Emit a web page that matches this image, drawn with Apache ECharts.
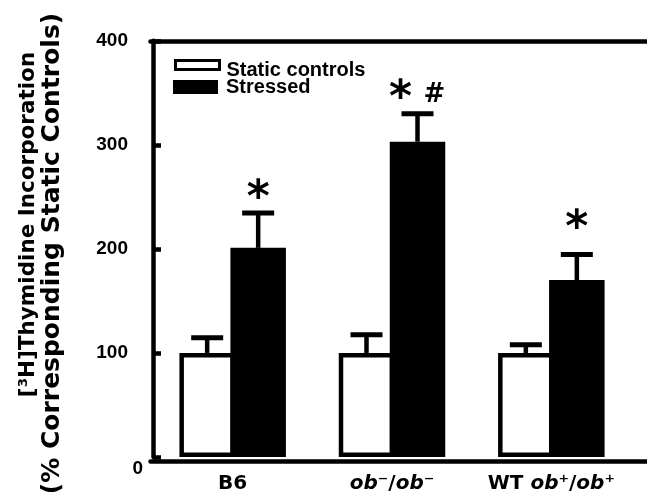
<!DOCTYPE html>
<html>
<head>
<meta charset="utf-8">
<script src="https://cdn.jsdelivr.net/npm/echarts@6/dist/echarts.min.js"></script>
<style>html,body{margin:0;padding:0;background:#fff;}#c{width:647px;height:494px;}</style>
</head>
<body>
<div id="c"></div>
<script>
// ---- data ----
const categories = ['B6', 'ob⁻/ob⁻', 'WT ob⁺/ob⁺'];
const seriesNames = ['Static controls', 'Stressed'];
const staticValues = [100, 100, 100];
const staticErrors = [14.5, 17.5, 8];
const stressedValues = [201, 303, 170];
const stressedErrors = [33.5, 27, 24.5];
const markTexts = ['*', '*#', '*'];
const markValues = [256, 352, 227];
const yTicks = [0, 100, 200, 300, 400];

// ---- style constants ----
const BAR_W = 55.5, BORDER = 4.5, GAP_PX = -4.5;
const HALF = (BAR_W + GAP_PX) / 2;
const GRID = { left: 153, right: 16, top: 40.8, bottom: 32.7 };
const BOLD = 'bold';
const SANS = '"Liberation Sans", Arial, sans-serif';

const chart = echarts.init(document.getElementById('c'), null, { renderer: 'canvas' });

const errData = [];
staticValues.forEach((v, i) => errData.push([i, v, staticErrors[i], -1]));
stressedValues.forEach((v, i) => errData.push([i, v, stressedErrors[i], 1]));
const markData = markValues.map((v, i) => [i, v]);

const option = {
  backgroundColor: '#fff',
  animation: false,
  grid: [
    { left: GRID.left, right: GRID.right, top: GRID.top, bottom: GRID.bottom },
    { left: 150.5, right: -20, top: GRID.top, bottom: GRID.bottom }
  ],
  legend: [
    {
      left: 174, top: 59, padding: 0, orient: 'vertical', selectedMode: false,
      icon: 'rect', itemWidth: 44, itemHeight: 9,
      data: [{ name: seriesNames[0], itemStyle: { color: '#fff', borderColor: '#000', borderWidth: 3 } }],
      formatter: n => '{a|' + n + '}',
      textStyle: { rich: { a: { fontFamily: SANS, fontWeight: BOLD, fontSize: 20, color: '#000', padding: [10, 0, 0, 2] } } }
    },
    {
      left: 173, top: 77, padding: 0, orient: 'vertical', selectedMode: false,
      icon: 'rect', itemWidth: 45, itemHeight: 14,
      data: [{ name: seriesNames[1], itemStyle: { color: '#000', borderWidth: 0 } }],
      formatter: n => '{a|' + n + '}',
      textStyle: { rich: { a: { fontFamily: SANS, fontWeight: BOLD, fontSize: 20, color: '#000', padding: [0, 0, 0, 3] } } }
    }
  ],
  xAxis: [
    {
      type: 'category', gridIndex: 0, data: categories,
      axisLine: { show: false }, axisTick: { show: false },
      axisLabel: {
        interval: 0, hideOverlap: false,
        margin: 17, color: '#000', fontFamily: 'DejaVu Sans', fontWeight: BOLD, fontSize: 20,
        formatter: s => s.replace(/ob/g, '{i|ob}'),
        rich: { i: { fontFamily: 'DejaVu Sans', fontWeight: BOLD, fontStyle: 'italic', fontSize: 20, color: '#000' } }
      }
    },
    {
      type: 'category', gridIndex: 1, data: [''], position: 'bottom',
      axisLine: { show: true, lineStyle: { color: '#000', width: 4.5 } },
      axisTick: { show: false }, axisLabel: { show: false }
    },
    {
      type: 'category', gridIndex: 1, data: [''], position: 'top',
      axisLine: { show: true, lineStyle: { color: '#000', width: 4.5 } },
      axisTick: { show: false }, axisLabel: { show: false }
    }
  ],
  yAxis: [
    {
      type: 'value', gridIndex: 0, min: yTicks[0], max: yTicks[yTicks.length - 1], interval: 100,
      splitLine: { show: false },
      axisLine: { show: true, lineStyle: { color: '#000', width: 4.5 } },
      axisTick: { show: true, inside: true, length: 8, lineStyle: { color: '#000', width: 4.5 } },
      axisLabel: {
        margin: 10, color: '#000', fontFamily: SANS, fontWeight: BOLD, fontSize: 19,
        formatter: v => v === 0 ? '{z|0}' : '{n|' + v + '}',
        rich: {
          z: { fontFamily: SANS, fontWeight: BOLD, fontSize: 19, color: '#000', padding: [23, 0, 0, 0] },
          n: { fontFamily: SANS, fontWeight: BOLD, fontSize: 19, color: '#000', padding: [0, 15, 0, 0] }
        }
      }
    },
    { type: 'value', gridIndex: 1, show: false }
  ],
  graphic: [
    {
      type: 'text', x: 28, y: 224.5, rotation: Math.PI / 2,
      style: { text: '[³H]Thymidine Incorporation', font: 'bold 21.5px "DejaVu Sans"', fill: '#000', align: 'center', verticalAlign: 'middle' }
    },
    {
      type: 'text', x: 52, y: 253.5, rotation: Math.PI / 2,
      style: { text: '(% Corresponding Static Controls)', font: 'bold 25px "DejaVu Sans"', fill: '#000', align: 'center', verticalAlign: 'middle' }
    }
  ],
  series: [
    {
      name: seriesNames[0], type: 'bar', xAxisIndex: 0, yAxisIndex: 0,
      data: staticValues, barWidth: BAR_W, barGap: (GAP_PX / BAR_W * 100) + '%',
      itemStyle: { color: '#fff', borderColor: '#000', borderWidth: BORDER }, z: 2
    },
    {
      name: seriesNames[1], type: 'bar', xAxisIndex: 0, yAxisIndex: 0,
      data: stressedValues, barWidth: BAR_W, barGap: (GAP_PX / BAR_W * 100) + '%',
      itemStyle: { color: '#000', borderColor: '#000', borderWidth: BORDER }, z: 2
    },
    {
      type: 'custom', xAxisIndex: 0, yAxisIndex: 0, z: 3, silent: true,
      data: errData,
      encode: { x: 0, y: 1 },
      renderItem: (params, api) => {
        const x = api.value(0), v = api.value(1), e = api.value(2), side = api.value(3);
        const b = api.coord([x, v]);
        const t = api.coord([x, v + e]);
        const cx = b[0] + side * HALF;
        return {
          type: 'group', children: [
            { type: 'line', shape: { x1: cx, y1: b[1], x2: cx, y2: t[1] }, style: { stroke: '#000', lineWidth: 4.5 } },
            { type: 'line', shape: { x1: cx - 16, y1: t[1], x2: cx + 16, y2: t[1] }, style: { stroke: '#000', lineWidth: 5 } }
          ]
        };
      }
    },
    {
      type: 'custom', xAxisIndex: 0, yAxisIndex: 0, z: 4, silent: true,
      data: markData,
      encode: { x: 0, y: 1 },
      renderItem: (params, api) => {
        const p = api.coord([api.value(0), api.value(1)]);
        const cx = p[0] + HALF;
        const chars = markTexts[params.dataIndex].split('');
        const step = 34;
        const start = cx - (chars.length - 1) * step / 2;
        return {
          type: 'group',
          children: chars.map((ch, k) => {
            const isStar = ch === '*';
            const fs = isStar ? 44 : 26;
            return {
              type: 'text', x: start + k * step, y: p[1] + (isStar ? 0.2 * fs : 5),
              style: { text: ch, font: 'bold ' + fs + 'px "DejaVu Sans"', fill: '#000', align: 'center', verticalAlign: 'middle' }
            };
          })
        };
      }
    }
  ]
};
chart.setOption(option);
</script>
</body>
</html>
